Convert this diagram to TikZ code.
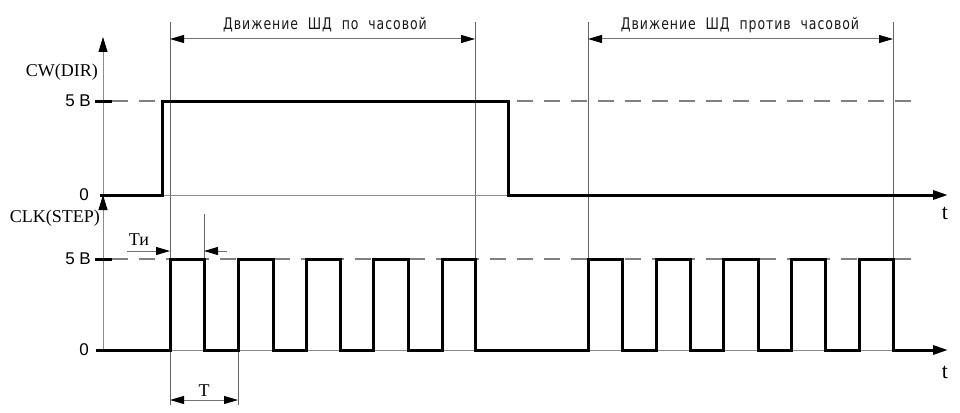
\documentclass[tikz,border=0pt]{standalone}
\usepackage{fontspec}
\setmainfont{Liberation Serif}
\newfontfamily\arialf{Liberation Sans}
\newfontfamily\gost{DejaVu Sans}[FakeStretch=0.78,LetterSpace=6]
\usetikzlibrary{arrows.meta}
\begin{document}
\begin{tikzpicture}[x=1pt,y=-1pt,
  sig/.style={line width=3pt, line join=miter, draw=black},
  axisline/.style={line width=1pt, draw=black!45},
  guide/.style={line width=1pt, draw=black!60},
  lvl/.style={line width=1.2pt, draw=black!50, dash pattern=on 16pt off 11pt},
  tk/.style={line width=3pt, draw=black},
  axtip/.style={-{Triangle[length=15pt,width=9pt,color=black]}},
  dimline/.style={line width=1pt, draw=black!55},
  dtip/.style={-{Triangle[length=14pt,width=8pt,color=black]}},
  dboth/.style={{Triangle[length=14pt,width=8pt,color=black]}-{Triangle[length=14pt,width=8pt,color=black]}},
  tlab/.style={font=\fontsize{18}{20}\selectfont, inner sep=0pt},
  biglab/.style={font=\fontsize{22}{24}\selectfont, inner sep=0pt},
  alab/.style={font=\arialf\fontsize{17}{19}\selectfont, inner sep=0pt},
  glab/.style={font=\gost\fontsize{16}{18}\selectfont, inner sep=0pt, text=black!90},
]
\useasboundingbox (0,0) rectangle (960,412);
\fill[white] (0,0) rectangle (960,412);

% guide lines
\draw[guide] (170,22) -- (170,405);
\draw[guide] (475,22) -- (475,350);
\draw[guide] (588,22) -- (588,350);
\draw[guide] (893,22) -- (893,350);
\draw[guide] (204,214) -- (204,259);
\draw[guide] (238,350) -- (238,405);

% dashed levels
\draw[lvl] (112,101) -- (922,101);
\draw[lvl] (112,259) -- (922,259);

% axes
\draw[axisline, axtip] (103,195) -- (103,37);
\draw[axisline, axtip] (103,350) -- (103,195);
\draw[axisline] (103,195) -- (940,195);
\draw[axisline] (103,350) -- (940,350);

% ticks
\draw[tk] (95,101) -- (112,101);
\draw[tk] (95,259) -- (112,259);

% top signal
\draw[sig, axtip] (100,195) -- (162,195) -- (162,101) -- (508,101) -- (508,195) -- (948,195);

% bottom signal
\draw[sig, axtip] (96,350) -- (170,350)
  -- (170,259) -- (204,259) -- (204,350) -- (238,350)
  -- (238,259) -- (273,259) -- (273,350) -- (306,350)
  -- (306,259) -- (340,259) -- (340,350) -- (373,350)
  -- (373,259) -- (408,259) -- (408,350) -- (442,350)
  -- (442,259) -- (475,259) -- (475,350) -- (588,350)
  -- (588,259) -- (622,259) -- (622,350) -- (656,350)
  -- (656,259) -- (690,259) -- (690,350) -- (723,350)
  -- (723,259) -- (758,259) -- (758,350) -- (791,350)
  -- (791,259) -- (825,259) -- (825,350) -- (859,350)
  -- (859,259) -- (893,259) -- (893,350) -- (948,350);

% dimension arrows
\coordinate (d1a) at (170,39); \coordinate (d1b) at (475,39);
\coordinate (d2a) at (588,39); \coordinate (d2b) at (893,39);
\draw[dimline, dboth] (d1a) -- (d1b);
\draw[dimline, dboth] (d2a) -- (d2b);
\coordinate (ta) at (170,400); \coordinate (tb) at (238,400);
\draw[dimline, dboth] (ta) -- (tb);
\coordinate (tia) at (127,251); \coordinate (tib) at (170,251);
\coordinate (tic) at (227,251); \coordinate (tid) at (204,251);
\draw[dimline, dtip] (tia) -- (tib);
\draw[dimline, dtip] (tic) -- (tid);

% labels
\node[glab] (h1) at (325,25) {Движение\ \ ШД\ \ по\ \ часовой};
\node[glab] (h2) at (740,25) {Движение\ \ ШД\ \ против\ \ часовой};
\node[tlab, anchor=east] (cw) at (98,72) {CW(DIR)};
\node[tlab, anchor=east] (clk) at (100,218) {CLK(STEP)};
\node[alab, anchor=east] (v5a) at (91,101) {5 В};
\node[alab, anchor=east] (z0a) at (89,195) {0};
\node[alab, anchor=east] (v5b) at (91,259) {5 В};
\node[alab, anchor=east] (z0b) at (89,350) {0};
\node[tlab] (ti) at (139,240) {Ти};
\node[tlab] (tt) at (204,391) {T};
\node[biglab] (t1) at (945,213) {t};
\node[biglab] (t2) at (945,372) {t};
\end{tikzpicture}
\end{document}
